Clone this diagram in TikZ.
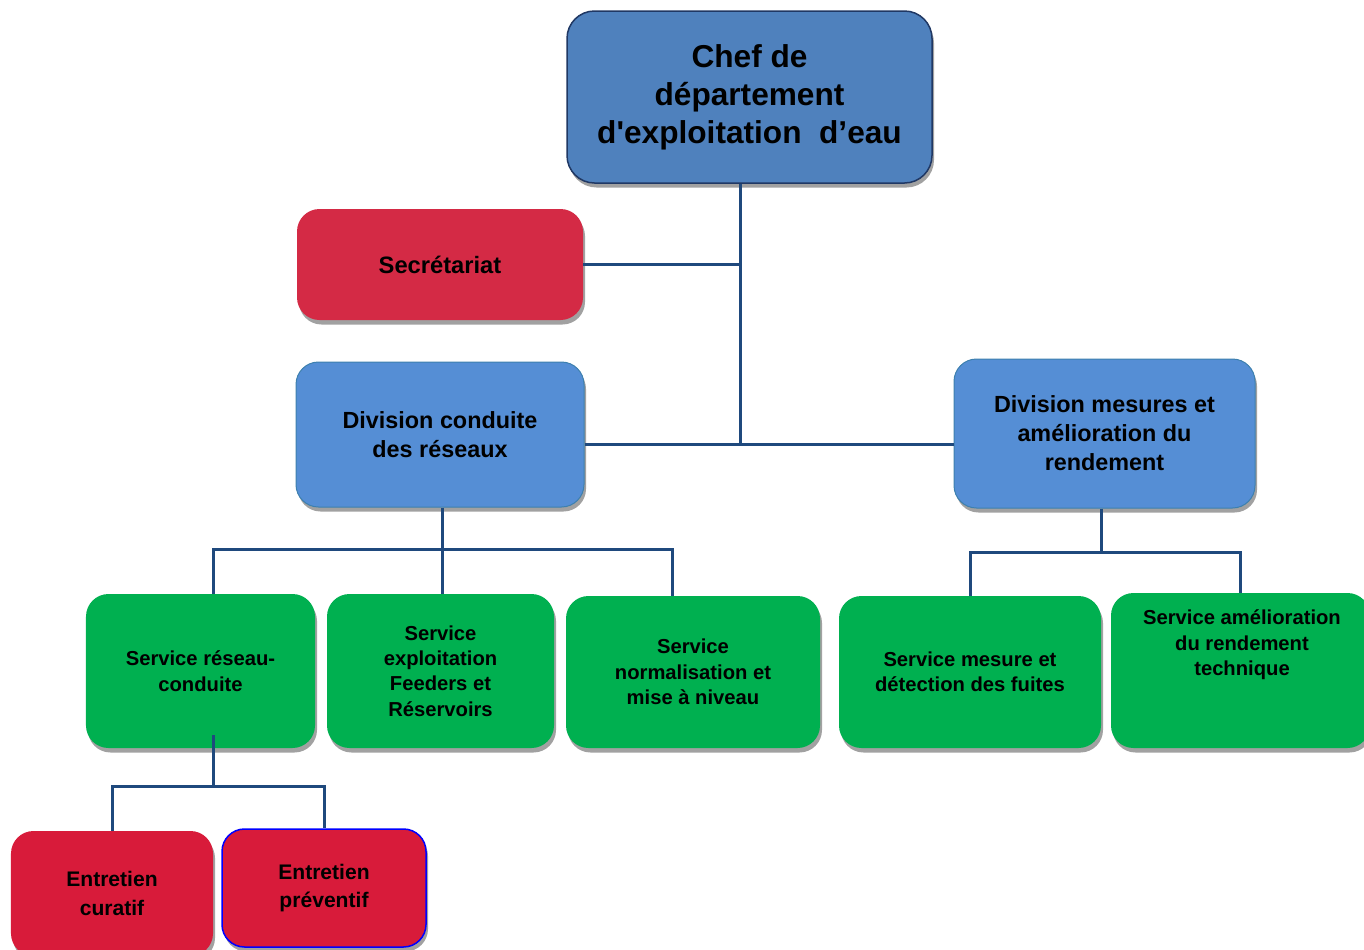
\documentclass[tikz,border=0pt]{standalone}
\usepackage{fontspec}
\setmainfont{Liberation Sans}
\usetikzlibrary{shadows}

\definecolor{chefblue}{HTML}{4F81BD}
\definecolor{chefline}{HTML}{203864}
\definecolor{divblue}{HTML}{558ED5}
\definecolor{divline}{HTML}{3D80AE}
\definecolor{secred}{HTML}{D42A45}
\definecolor{entred}{HTML}{D81B3A}
\definecolor{svcgreen}{HTML}{00B050}
\definecolor{linkblue}{HTML}{1F497D}

\tikzset{
	boite/.style={rounded corners=4.5mm, align=center, inner sep=0pt,
		drop shadow={shadow xshift=0.4mm, shadow yshift=-0.9mm, fill=black!37, opacity=1}},
	chefbox/.style={boite, fill=chefblue, draw=chefline, line width=0.3mm, rounded corners=5.5mm,
		font=\fontsize{18}{21.6}\selectfont\bfseries},
	secbox/.style={boite, fill=secred, font=\fontsize{13.5}{16.5}\selectfont\bfseries},
	divbox/.style={boite, fill=divblue, draw=divline, line width=0.2mm,
		font=\fontsize{13.3}{16.5}\selectfont\bfseries},
	svcbox/.style={boite, fill=svcgreen, font=\fontsize{11.5}{14.5}\selectfont\bfseries},
	svctxt/.style={align=center, inner sep=0pt, font=\fontsize{11.5}{14.5}\selectfont\bfseries},
	entbox/.style={boite, fill=entred, font=\fontsize{12}{16}\selectfont\bfseries},
	lien/.style={draw=linkblue, line width=0.6mm},
}

\begin{document}
\begin{tikzpicture}[x=0.2mm, y=-0.2mm]
		%%%%% START %%%%%
		\useasboundingbox (0, 0) rectangle (1364, 949);
		
		\node[chefbox, minimum width=73mm, minimum height=34.4mm] (chef) at (749.5, 97)
			{Chef de\\département\\d\textquotesingle{}exploitation\ \ d’eau};
		\node[secbox, minimum width=57.2mm, minimum height=22.2mm] (secr) at (440, 264.5) {Secrétariat};
		
		\node[divbox, minimum width=57.6mm, minimum height=29mm] (divc) at (440, 434.5)
			{Division conduite\\des réseaux};
		\node[divbox, minimum width=60.2mm, minimum height=29.8mm] (divm) at (1104.5, 433.5)
			{Division mesures et\\amélioration du\\rendement};
		
		\node[svcbox, minimum width=45.8mm, minimum height=30.8mm] (reseau) at (200.5, 671)
			{Service réseau-\\conduite};
		\node[svcbox, minimum width=45.4mm, minimum height=30.8mm] (feeders) at (440.5, 671)
			{Service\\exploitation\\Feeders et\\Réservoirs};
		\node[svcbox, minimum width=50.8mm, minimum height=30.4mm] (normal) at (693, 672)
			{Service\\normalisation et\\mise à niveau};
		\node[svcbox, minimum width=52.4mm, minimum height=30.4mm] (fuites) at (970, 672)
			{Service mesure et\\détection des fuites};
		\node[svcbox, minimum width=51.8mm, minimum height=31mm] (amelio) at (1240.5, 670.5) {};
		\node[svctxt] (ameliotxt) at (1242, 645) {Service amélioration\\du rendement\\technique};
		
		\node[entbox, minimum width=40.4mm, minimum height=25mm] (curatif) at (112, 893.5)
			{Entretien\\curatif};
		\node[entbox, draw=blue, line width=0.3mm, minimum width=40.8mm, minimum height=23.6mm] (preventif) at (324, 888)
			{Entretien\\préventif};
		
		% liaisons
		\coordinate (tronc) at (740, 444);
		\coordinate (barc) at (442, 549);
		\coordinate (bcg) at (213, 549);
		\coordinate (bcd) at (672, 549);
		\coordinate (barm) at (1101, 552);
		\coordinate (pied) at (213, 735);
		\coordinate (barr) at (213, 786);
		
		\draw[lien] (chef.south -| tronc) -- (tronc);
		\draw[lien] (secr.east) -- (secr.east -| tronc);
		\draw[lien] (divc.east |- tronc) -- (divm.west |- tronc);
		
		\draw[lien] (barc |- divc.south) -- (barc |- feeders.north);
		\draw[lien] (bcg |- reseau.north) -- (bcg) -- (bcd) -- (bcd |- normal.north);
		
		\draw[lien] (barm |- divm.south) -- (barm);
		\draw[lien] (fuites.north) |- (barm) -| (amelio.north);
		
		\draw[lien] (pied) -- (barr);
		\draw[lien] (curatif.north) |- (barr) -| (preventif.north);
		
		%%%%% END %%%%%
\end{tikzpicture}
\end{document}
